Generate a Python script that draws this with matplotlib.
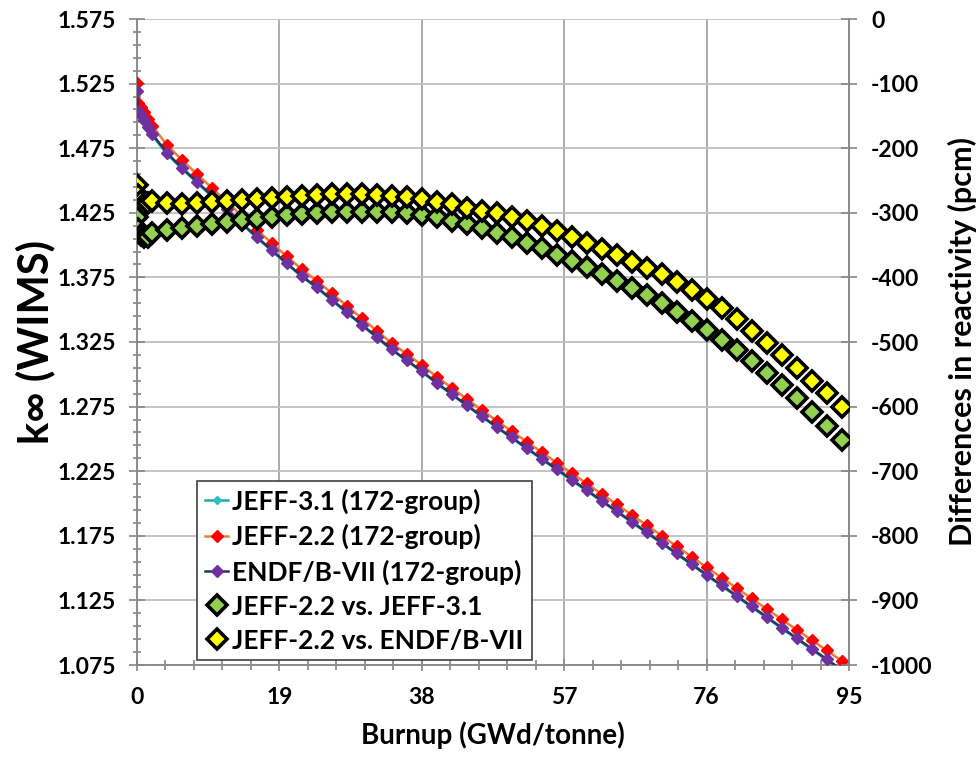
import matplotlib
matplotlib.use("Agg")
import matplotlib.pyplot as plt
import numpy as np
from matplotlib.ticker import FixedLocator, FormatStrFormatter, MultipleLocator

plt.rcParams['font.family'] = ['Lato', 'DejaVu Sans']
plt.rcParams['font.weight'] = 'bold'
plt.rcParams['axes.unicode_minus'] = False

burnup = [0, 0.1, 0.5, 1.0, 1.5, 2, 4, 6, 8, 10, 12, 14, 16, 18, 20, 22, 24, 26, 28, 30,
          32, 34, 36, 38, 40, 42, 44, 46, 48, 50, 52, 54, 56, 58, 60, 62, 64, 66, 68, 70,
          72, 74, 76, 78, 80, 82, 84, 86, 88, 90, 92, 94]

k_jeff31 = [1.5181, 1.5024, 1.4994, 1.4954, 1.4899, 1.4852, 1.4704, 1.4590, 1.4483, 1.4376,
            1.4270, 1.4163, 1.4056, 1.3954, 1.3854, 1.3755, 1.3669, 1.3572, 1.3476, 1.3379,
            1.3284, 1.3188, 1.3105, 1.3020, 1.2929, 1.2843, 1.2757, 1.2672, 1.2588, 1.2506,
            1.2424, 1.2343, 1.2260, 1.2179, 1.2098, 1.2017, 1.1936, 1.1854, 1.1772, 1.1691,
            1.1608, 1.1526, 1.1443, 1.1362, 1.1280, 1.1198, 1.1117, 1.1034, 1.0953, 1.0871,
            1.0790, 1.0708]

k_jeff22 = [1.5252, 1.5098, 1.5070, 1.5030, 1.4975, 1.4925, 1.4775, 1.4659, 1.4550, 1.4442,
            1.4335, 1.4225, 1.4117, 1.4014, 1.3912, 1.3812, 1.3725, 1.3627, 1.3530, 1.3433,
            1.3337, 1.3240, 1.3157, 1.3072, 1.2981, 1.2895, 1.2809, 1.2724, 1.2641, 1.2559,
            1.2478, 1.2397, 1.2316, 1.2235, 1.2155, 1.2074, 1.1994, 1.1913, 1.1832, 1.1751,
            1.1669, 1.1588, 1.1506, 1.1426, 1.1346, 1.1265, 1.1185, 1.1104, 1.1024, 1.0944,
            1.0864, 1.0783]

k_endf7 = [1.5192, 1.5036, 1.5006, 1.4966, 1.4911, 1.4863, 1.4713, 1.4598, 1.4490, 1.4383,
           1.4277, 1.4169, 1.4062, 1.3960, 1.3859, 1.3760, 1.3674, 1.3577, 1.3481, 1.3384,
           1.3289, 1.3192, 1.3109, 1.3024, 1.2933, 1.2847, 1.2761, 1.2676, 1.2593, 1.2511,
           1.2429, 1.2348, 1.2266, 1.2185, 1.2104, 1.2022, 1.1942, 1.1860, 1.1778, 1.1697,
           1.1614, 1.1532, 1.1449, 1.1368, 1.1286, 1.1204, 1.1123, 1.1040, 1.0959, 1.0877,
           1.0796, 1.0714]

diff_vs_jeff31 = [-306, -325, -334, -338, -337, -332, -327, -324, -320, -317, -314, -311, -309,
                  -306, -304, -302, -300, -299, -298, -298, -298, -299, -301, -303, -307, -312,
                  -318, -324, -331, -338, -346, -355, -365, -375, -384, -394, -405, -416, -427,
                  -440, -453, -467, -481, -497, -513, -530, -548, -567, -587, -608, -630, -652]

diff_vs_endf7 = [-257, -272, -282, -286, -285, -281, -285, -286, -285, -283, -282, -280, -279,
                 -277, -276, -274, -272, -271, -271, -271, -272, -274, -276, -279, -283, -287,
                 -292, -297, -301, -306, -313, -320, -328, -337, -346, -356, -366, -376, -385,
                 -395, -407, -420, -433, -448, -465, -483, -501, -520, -540, -560, -579, -600]

labels = ["JEFF-3.1 (172-group)", "JEFF-2.2 (172-group)", "ENDF/B-VII (172-group)",
          "JEFF-2.2 vs. JEFF-3.1", "JEFF-2.2 vs. ENDF/B-VII"]
x_ticks = [0, 19, 38, 57, 76, 95]
k_ticks = [1.075, 1.125, 1.175, 1.225, 1.275, 1.325, 1.375, 1.425, 1.475, 1.525, 1.575]
pcm_ticks = [-1000, -900, -800, -700, -600, -500, -400, -300, -200, -100, 0]

fig = plt.figure(figsize=(9.79, 7.58), dpi=100)
ax = fig.add_axes([137/979, 1-665/758, (849-137)/979, (665-19)/758])
ax2 = ax.twinx()

grid_v = '#a6a6a6'
grid_h = '#bfbfbf'
spine_c = '#868686'

l1, = ax.plot(burnup, k_jeff31, color='#2aa5b0', lw=1.8, marker='D', ms=4,
              mfc='#2fbfbf', mec='#2fbfbf', zorder=3)
l2, = ax.plot(burnup, k_jeff22, color='#ed7d31', lw=1.8, marker='D', ms=6.5,
              mfc='#ff0000', mec='#ff0000', zorder=4)
l3, = ax.plot(burnup, k_endf7, color='#1f3864', lw=1.8, marker='D', ms=6.5,
              mfc='#7030a0', mec='#7030a0', zorder=5)

l4, = ax2.plot(burnup, diff_vs_jeff31, ls='none', marker='D', ms=10, mfc='#92d050',
               mec='black', mew=2.6, zorder=6)
l5, = ax2.plot(burnup, diff_vs_endf7, ls='none', marker='D', ms=10, mfc='#ffff00',
               mec='black', mew=2.6, zorder=6)

ax.set_xlim(0, 95)
ax.set_ylim(k_ticks[0], k_ticks[-1])
ax2.set_ylim(pcm_ticks[0], pcm_ticks[-1])

ax.xaxis.set_major_locator(FixedLocator(x_ticks))
ax.xaxis.set_minor_locator(MultipleLocator(3.8))
ax.yaxis.set_major_locator(FixedLocator(k_ticks))
ax.yaxis.set_minor_locator(FixedLocator(np.round(np.arange(k_ticks[0], k_ticks[-1] + 1e-9, 0.01), 4)))
ax.yaxis.set_major_formatter(FormatStrFormatter('%.3f'))
ax2.yaxis.set_major_locator(FixedLocator(pcm_ticks))
ax2.yaxis.set_major_formatter(FormatStrFormatter('%d'))

ax.grid(True, axis='x', which='major', color=grid_v, lw=1.3)
ax.grid(True, axis='y', which='major', color=grid_h, lw=1.3)
ax.set_axisbelow(True)

for a in (ax, ax2):
    a.spines['top'].set_visible(False)
ax2.spines['left'].set_visible(False)
ax2.spines['bottom'].set_visible(False)
ax.spines['right'].set_visible(False)
for s in ('left', 'bottom'):
    ax.spines[s].set_color(spine_c)
    ax.spines[s].set_linewidth(1.3)
ax2.spines['right'].set_color(spine_c)
ax2.spines['right'].set_linewidth(1.3)

ax.tick_params(axis='both', which='both', direction='inout', color=spine_c, width=1.2,
               labelsize=16.5)
ax.tick_params(axis='y', which='major', length=12, pad=9)
ax.tick_params(axis='y', which='minor', length=6)
ax.tick_params(axis='x', which='major', length=9, pad=11)
ax.tick_params(axis='x', which='minor', length=7)
ax2.tick_params(axis='y', which='major', direction='inout', color=spine_c, width=1.2,
                labelsize=16.5, length=12, pad=10)
ax2.tick_params(axis='y', which='minor', right=False)

ax.set_xlabel("Burnup (GWd/tonne)", fontsize=20, fontweight='bold')
ax.xaxis.set_label_coords(0.5, -0.088)
ax.set_ylabel("k\u221e (WIMS)", fontsize=30, fontweight='bold', va='center')
ax.yaxis.set_label_coords(-0.142, 0.5)
ax2.set_ylabel("Differences in reactivity (pcm)", fontsize=22, fontweight='bold',
               va='center', rotation=90)
ax2.yaxis.set_label_coords(1.16, 0.5)

leg = ax2.legend([l1, l2, l3, l4, l5], labels, loc='lower left',
                 bbox_to_anchor=(0.084, 0.007), borderaxespad=0, fontsize=19,
                 frameon=True, fancybox=False, handlelength=0.9, handletextpad=0.15,
                 labelspacing=0.38, borderpad=0.3)
leg.get_frame().set_edgecolor('#404040')
leg.get_frame().set_linewidth(1.2)
leg.get_frame().set_alpha(1.0)
leg.set_zorder(10)

fig.savefig("out.png", dpi=100)
